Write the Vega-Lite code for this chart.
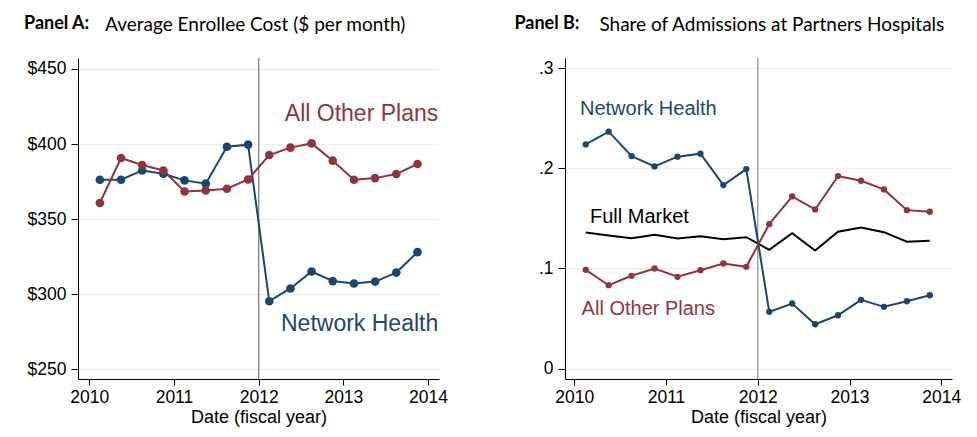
{
  "$schema": "https://vega.github.io/schema/vega-lite/v6.json",
  "background": "#ffffff",
  "padding": {"left": 24, "top": 15, "right": 5, "bottom": 5},
  "config": {
    "view": {"stroke": null},
    "font": "Liberation Sans",
    "concat": {"spacing": 66},
    "axis": {
      "domainColor": "#000000",
      "tickColor": "#000000",
      "labelColor": "#000000",
      "titleColor": "#000000",
      "labelFont": "Liberation Sans",
      "titleFont": "Liberation Sans",
      "labelFontSize": 17.5,
      "titleFontSize": 18,
      "titleFontWeight": "normal",
      "tickSize": 7,
      "labelPadding": 5,
      "gridColor": "#eaf2f3",
      "gridWidth": 1.5
    },
    "axisX": {"tickSize": 6, "labelPadding": 3, "titlePadding": 3},
    "title": {"font": "Lato", "fontSize": 18, "color": "#000000", "anchor": "start", "frame": "bounds"}
  },
  "datasets": {
    "cost": [
      {"date": 2010.125, "plan": "Network Health", "value": 376.2},
      {"date": 2010.375, "plan": "Network Health", "value": 376.2},
      {"date": 2010.625, "plan": "Network Health", "value": 382.4},
      {"date": 2010.875, "plan": "Network Health", "value": 380.2},
      {"date": 2011.125, "plan": "Network Health", "value": 375.8},
      {"date": 2011.375, "plan": "Network Health", "value": 373.6},
      {"date": 2011.625, "plan": "Network Health", "value": 398.2},
      {"date": 2011.875, "plan": "Network Health", "value": 399.6},
      {"date": 2012.125, "plan": "Network Health", "value": 295.3},
      {"date": 2012.375, "plan": "Network Health", "value": 303.8},
      {"date": 2012.625, "plan": "Network Health", "value": 315.1},
      {"date": 2012.875, "plan": "Network Health", "value": 308.7},
      {"date": 2013.125, "plan": "Network Health", "value": 307.1},
      {"date": 2013.375, "plan": "Network Health", "value": 308.4},
      {"date": 2013.625, "plan": "Network Health", "value": 314.4},
      {"date": 2013.875, "plan": "Network Health", "value": 328.0},
      {"date": 2010.125, "plan": "All Other Plans", "value": 360.7},
      {"date": 2010.375, "plan": "All Other Plans", "value": 390.7},
      {"date": 2010.625, "plan": "All Other Plans", "value": 386.0},
      {"date": 2010.875, "plan": "All Other Plans", "value": 382.4},
      {"date": 2011.125, "plan": "All Other Plans", "value": 368.4},
      {"date": 2011.375, "plan": "All Other Plans", "value": 369.1},
      {"date": 2011.625, "plan": "All Other Plans", "value": 370.2},
      {"date": 2011.875, "plan": "All Other Plans", "value": 376.4},
      {"date": 2012.125, "plan": "All Other Plans", "value": 392.7},
      {"date": 2012.375, "plan": "All Other Plans", "value": 397.6},
      {"date": 2012.625, "plan": "All Other Plans", "value": 400.4},
      {"date": 2012.875, "plan": "All Other Plans", "value": 388.9},
      {"date": 2013.125, "plan": "All Other Plans", "value": 376.2},
      {"date": 2013.375, "plan": "All Other Plans", "value": 377.3},
      {"date": 2013.625, "plan": "All Other Plans", "value": 380.0},
      {"date": 2013.875, "plan": "All Other Plans", "value": 386.7}
    ],
    "share": [
      {"date": 2010.125, "plan": "Network Health", "value": 0.224},
      {"date": 2010.375, "plan": "Network Health", "value": 0.2367},
      {"date": 2010.625, "plan": "Network Health", "value": 0.2123},
      {"date": 2010.875, "plan": "Network Health", "value": 0.202},
      {"date": 2011.125, "plan": "Network Health", "value": 0.2117},
      {"date": 2011.375, "plan": "Network Health", "value": 0.2147},
      {"date": 2011.625, "plan": "Network Health", "value": 0.1833},
      {"date": 2011.875, "plan": "Network Health", "value": 0.1993},
      {"date": 2012.125, "plan": "Network Health", "value": 0.0567},
      {"date": 2012.375, "plan": "Network Health", "value": 0.065},
      {"date": 2012.625, "plan": "Network Health", "value": 0.0443},
      {"date": 2012.875, "plan": "Network Health", "value": 0.0533},
      {"date": 2013.125, "plan": "Network Health", "value": 0.0687},
      {"date": 2013.375, "plan": "Network Health", "value": 0.0617},
      {"date": 2013.625, "plan": "Network Health", "value": 0.0673},
      {"date": 2013.875, "plan": "Network Health", "value": 0.0733},
      {"date": 2010.125, "plan": "All Other Plans", "value": 0.0987},
      {"date": 2010.375, "plan": "All Other Plans", "value": 0.0833},
      {"date": 2010.625, "plan": "All Other Plans", "value": 0.0927},
      {"date": 2010.875, "plan": "All Other Plans", "value": 0.1},
      {"date": 2011.125, "plan": "All Other Plans", "value": 0.0917},
      {"date": 2011.375, "plan": "All Other Plans", "value": 0.0983},
      {"date": 2011.625, "plan": "All Other Plans", "value": 0.105},
      {"date": 2011.875, "plan": "All Other Plans", "value": 0.1017},
      {"date": 2012.125, "plan": "All Other Plans", "value": 0.1443},
      {"date": 2012.375, "plan": "All Other Plans", "value": 0.172},
      {"date": 2012.625, "plan": "All Other Plans", "value": 0.159},
      {"date": 2012.875, "plan": "All Other Plans", "value": 0.1923},
      {"date": 2013.125, "plan": "All Other Plans", "value": 0.1877},
      {"date": 2013.375, "plan": "All Other Plans", "value": 0.179},
      {"date": 2013.625, "plan": "All Other Plans", "value": 0.1583},
      {"date": 2013.875, "plan": "All Other Plans", "value": 0.1567},
      {"date": 2010.125, "plan": "Full Market", "value": 0.136},
      {"date": 2010.375, "plan": "Full Market", "value": 0.133},
      {"date": 2010.625, "plan": "Full Market", "value": 0.1303},
      {"date": 2010.875, "plan": "Full Market", "value": 0.1337},
      {"date": 2011.125, "plan": "Full Market", "value": 0.13},
      {"date": 2011.375, "plan": "Full Market", "value": 0.1323},
      {"date": 2011.625, "plan": "Full Market", "value": 0.1293},
      {"date": 2011.875, "plan": "Full Market", "value": 0.1313},
      {"date": 2012.125, "plan": "Full Market", "value": 0.1187},
      {"date": 2012.375, "plan": "Full Market", "value": 0.1353},
      {"date": 2012.625, "plan": "Full Market", "value": 0.118},
      {"date": 2012.875, "plan": "Full Market", "value": 0.1367},
      {"date": 2013.125, "plan": "Full Market", "value": 0.141},
      {"date": 2013.375, "plan": "Full Market", "value": 0.1363},
      {"date": 2013.625, "plan": "Full Market", "value": 0.1267},
      {"date": 2013.875, "plan": "Full Market", "value": 0.1277}
    ],
    "labelsA": [
      {"date": 2014.12, "value": 420, "plan": "All Other Plans"},
      {"date": 2014.12, "value": 280, "plan": "Network Health"}
    ],
    "labelsB": [
      {"date": 2010.062, "value": 0.2593, "plan": "Network Health"},
      {"date": 2010.171, "value": 0.151, "plan": "Full Market"},
      {"date": 2010.08, "value": 0.0593, "plan": "All Other Plans"}
    ],
    "reform": [{"date": 2012}]
  },
  "hconcat": [
    {
      "title": {"text": "Average Enrollee Cost ($ per month)", "fontWeight": "normal", "fontSize": 19, "dx": 81, "dy": 24},
      "vconcat": [
        {
          "width": 361,
          "height": 321,
          "title": {"text": "Panel A:", "fontWeight": "bold", "dx": -3, "offset": 24},
          "encoding": {
            "x": {
              "field": "date",
              "type": "quantitative",
              "scale": {"domain": [2009.867, 2014.129], "nice": false, "zero": false},
              "axis": {"values": [2010, 2011, 2012, 2013, 2014], "format": "d", "title": "Date (fiscal year)", "grid": false}
            },
            "y": {
              "field": "value",
              "type": "quantitative",
              "scale": {"domain": [243.5, 457.3], "nice": false, "zero": false},
              "axis": {"values": [250, 300, 350, 400, 450], "labelExpr": "'$' + datum.value", "title": null, "grid": true}
            },
            "color": {
              "field": "plan",
              "type": "nominal",
              "scale": {"domain": ["Network Health", "All Other Plans", "Full Market"], "range": ["#1a476f", "#90353b", "#000000"]},
              "legend": null
            }
          },
          "layer": [
            {
              "data": {"name": "reform"},
              "mark": {"type": "rule", "color": "#8a8a8a", "strokeWidth": 1.5},
              "encoding": {"x": {"field": "date", "type": "quantitative"}, "y": null, "color": null}
            },
            {
              "data": {"name": "cost"},
              "mark": {"type": "line", "strokeWidth": 2, "point": {"filled": true, "size": 75, "opacity": 1}},
              "encoding": {"order": {"field": "date"}}
            },
            {
              "data": {"name": "labelsA"},
              "mark": {"type": "text", "align": "right", "baseline": "middle", "fontSize": 23, "font": "Liberation Sans"},
              "encoding": {"text": {"field": "plan"}}
            }
          ]
        }
      ]
    },
    {
      "title": {"text": "Share of Admissions at Partners Hospitals", "fontWeight": "normal", "fontSize": 19, "dx": 85, "dy": 24},
      "vconcat": [
        {
          "width": 387,
          "height": 321,
          "title": {"text": "Panel B:", "fontWeight": "bold", "dx": -24, "offset": 24},
          "encoding": {
            "x": {
              "field": "date",
              "type": "quantitative",
              "scale": {"domain": [2009.899, 2014.117], "nice": false, "zero": false},
              "axis": {"values": [2010, 2011, 2012, 2013, 2014], "format": "d", "title": "Date (fiscal year)", "grid": false}
            },
            "y": {
              "field": "value",
              "type": "quantitative",
              "scale": {"domain": [-0.0104, 0.3103], "nice": false, "zero": false},
              "axis": {"values": [0, 0.1, 0.2, 0.3], "labelExpr": "datum.value == 0 ? '0' : replace(format(datum.value, '.1f'), '0.', '.')", "title": null, "grid": true}
            },
            "color": {
              "field": "plan",
              "type": "nominal",
              "scale": {"domain": ["Network Health", "All Other Plans", "Full Market"], "range": ["#1a476f", "#90353b", "#000000"]},
              "legend": null
            }
          },
          "layer": [
            {
              "data": {"name": "reform"},
              "mark": {"type": "rule", "color": "#8a8a8a", "strokeWidth": 1.2},
              "encoding": {"x": {"field": "date", "type": "quantitative"}, "y": null, "color": null}
            },
            {
              "data": {"name": "share"},
              "transform": [{"filter": "datum.plan == 'Full Market'"}],
              "mark": {"type": "line", "strokeWidth": 2},
              "encoding": {"order": {"field": "date"}}
            },
            {
              "data": {"name": "share"},
              "transform": [{"filter": "datum.plan != 'Full Market'"}],
              "mark": {"type": "line", "strokeWidth": 2, "point": {"filled": true, "size": 40, "opacity": 1}},
              "encoding": {"order": {"field": "date"}}
            },
            {
              "data": {"name": "labelsB"},
              "mark": {"type": "text", "align": "left", "baseline": "middle", "fontSize": 20, "font": "Liberation Sans"},
              "encoding": {"text": {"field": "plan"}}
            }
          ]
        }
      ]
    }
  ]
}
